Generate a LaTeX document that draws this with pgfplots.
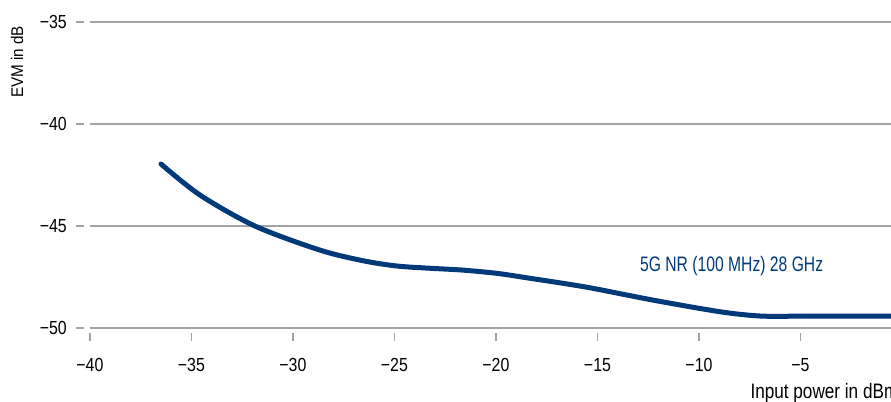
\documentclass[border=0pt]{standalone}
\usepackage{fontspec}
\setmainfont{Liberation Sans}[FakeStretch=0.75]
\newfontfamily\tickfont{Liberation Sans}[FakeStretch=0.84]
\newfontfamily\xlabfont{Liberation Sans}[FakeStretch=0.82]
\newfontfamily\ylabfont{Liberation Sans}[FakeStretch=0.9]
\usepackage{pgfplots}
\pgfplotsset{compat=1.18}
\definecolor{curve}{RGB}{0,58,120}
\definecolor{gridc}{RGB}{160,164,168}

\begin{document}
\begin{tikzpicture}[font=\fontsize{21}{24}\selectfont]
\begin{axis}[
    x=20.3bp, y=20.4bp,
    xmin=-40, xmax=-0.54,
    ymin=-50, ymax=-35,
    axis line style={draw=none},
    xtick={-40,-35,-30,-25,-20,-15,-10,-5},
    xticklabels={−40,−35,−30,−25,−20,−15,−10,−5},
    ytick={-50,-45,-40,-35},
    yticklabels={−50,−45,−40,−35},
    ymajorgrids,
    grid style={gridc, line width=1.6bp},
    tick align=outside,
    xtick pos=bottom, ytick pos=left,
    major tick length=8bp,
    ytick style={gridc, line width=1.6bp, xshift=-6bp},
    xtick style={gridc, line width=1.6bp, yshift=-5bp},
    tick label style={font=\tickfont\fontsize{19}{22}\selectfont},
    xticklabel style={anchor=base, inner sep=0pt, yshift=-35bp},
    yticklabel style={anchor=east, inner sep=0pt, xshift=-15bp},
    clip=false,
]

% EVM vs input power
\addplot[curve, line width=5bp, line cap=round, smooth] coordinates {
    (-36.5,-41.96)
    (-34.58,-43.48)
    (-31.87,-45.0)
    (-28.67,-46.18)
    (-26.55,-46.70)
    (-24.88,-46.96)
    (-23.25,-47.07)
    (-21.63,-47.16)
    (-19.95,-47.32)
    (-18.33,-47.56)
    (-15.52,-48.0)
    (-12.27,-48.63)
    (-8.97,-49.2)
    (-7.0,-49.41)
    (-5,-49.42)
    (-0.54,-49.42)
};

\node[text=curve, anchor=base west, inner sep=0pt] at (axis cs:-12.91,-47.24) {5G NR (100 MHz) 28 GHz};
\node[anchor=base west, inner sep=0pt, font=\xlabfont\fontsize{21}{24}\selectfont] at (axis cs:-7.47,-53.46) {Input power in dBm};
\node[rotate=90, anchor=base west, inner sep=0pt, font=\ylabfont\fontsize{17}{20}\selectfont] at (axis cs:-43.29,-38.73) {EVM in dB};

\coordinate (bl) at (axis cs:-44.43,-53.58);
\coordinate (tr) at (axis cs:-0.54,-33.92);
\end{axis}
\pgfresetboundingbox
\path[use as bounding box] (bl) rectangle (tr);
\end{tikzpicture}
\end{document}
